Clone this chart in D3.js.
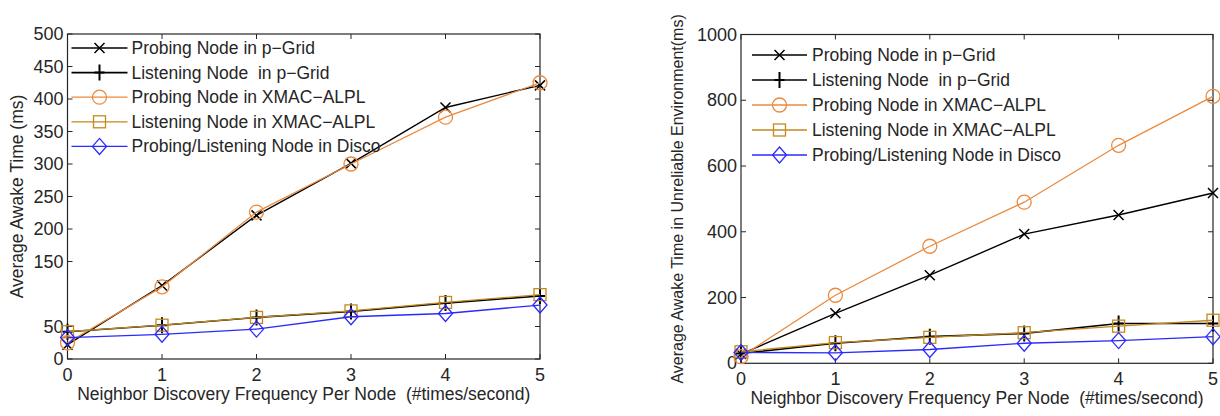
<!DOCTYPE html>
<html>
<head>
<meta charset="utf-8">
<script src="https://cdn.jsdelivr.net/npm/d3@7"></script>
<style>
  body { margin: 0; background: #fff; }
  svg { display: block; font-family: "Liberation Sans", Arial, sans-serif; }
  text { white-space: pre; }
  .tick-label { font-size: 18px; fill: #262626; }
  .axis-title { font-size: 17.5px; fill: #262626; }
  .legend-text { font-size: 17.5px; fill: #262626; }
</style>
</head>
<body>
<script>
var width = 1220;
var height = 416;

// shared x values
var xValues = [0, 1, 2, 3, 4, 5];
var xTicks = [0, 1, 2, 3, 4, 5];

// left chart: average awake time (ms)
var leftYTicks = [0, 50, 150, 200, 250, 300, 350, 400, 450, 500];
var leftProbingGrid = [22, 113, 221, 301, 387, 421];
var leftListeningGrid = [42, 52, 64, 73, 86, 97];
var leftProbingXmac = [25, 111, 226, 300, 372, 425];
var leftListeningXmac = [42, 52, 64, 74, 87, 99];
var leftDisco = [33, 38, 46, 65, 70, 83];

// right chart: unreliable environment
var rightYTicks = [0, 200, 400, 600, 800, 1000];
var rightProbingGrid = [28, 152, 268, 393, 451, 518];
var rightListeningGrid = [30, 61, 81, 91, 121, 121];
var rightProbingXmac = [20, 207, 356, 490, 663, 812];
var rightListeningXmac = [35, 63, 79, 93, 113, 131];
var rightDisco = [33, 32, 42, 61, 69, 81];

var seriesNames = [
  "Probing Node in p\u2212Grid",
  "Listening Node  in p\u2212Grid",
  "Probing Node in XMAC\u2212ALPL",
  "Listening Node in XMAC\u2212ALPL",
  "Probing/Listening Node in Disco"
];
var seriesColors = ["#000000", "#000000", "#ea8a3e", "#c4891f", "#2a2aff"];
var seriesMarkers = ["x", "plus", "circle", "square", "diamond"];
var seriesWidths = [1.4, 1.6, 1.3, 1.3, 1.3];

var xLabel = "Neighbor Discovery Frequency Per Node  (#times/second)";

var svg = d3.select("body").append("svg")
    .attr("width", width)
    .attr("height", height);

function drawMarker(g, type, color, x, y) {
  if (type === "x") {
    var s = 5;
    g.append("path")
      .attr("d", "M" + (x - s) + "," + (y - s) + "L" + (x + s) + "," + (y + s) +
                 "M" + (x - s) + "," + (y + s) + "L" + (x + s) + "," + (y - s))
      .attr("stroke", color).attr("stroke-width", 1.5).attr("fill", "none");
  } else if (type === "plus") {
    g.append("path")
      .attr("d", "M" + x + "," + (y - 8) + "L" + x + "," + (y + 8) +
                 "M" + (x - 5) + "," + y + "L" + (x + 5) + "," + y)
      .attr("stroke", color).attr("stroke-width", 2).attr("fill", "none");
  } else if (type === "circle") {
    g.append("circle")
      .attr("cx", x).attr("cy", y).attr("r", 7)
      .attr("stroke", color).attr("stroke-width", 1.3).attr("fill", "none");
  } else if (type === "square") {
    g.append("rect")
      .attr("x", x - 6).attr("y", y - 6).attr("width", 12).attr("height", 12)
      .attr("stroke", color).attr("stroke-width", 1.3).attr("fill", "none");
  } else if (type === "diamond") {
    g.append("path")
      .attr("d", "M" + x + "," + (y - 8) + "L" + (x + 7) + "," + y + "L" + x + "," + (y + 8) +
                 "L" + (x - 7) + "," + y + "Z")
      .attr("stroke", color).attr("stroke-width", 1.3).attr("fill", "none");
  }
}

function drawChart(opts) {
  var x = d3.scaleLinear().domain([0, 5]).range([opts.left, opts.right]);
  var y = d3.scaleLinear().domain([0, opts.yMax]).range([opts.bottom, opts.top]);
  var g = svg.append("g");

  // box
  g.append("rect")
    .attr("x", opts.left).attr("y", opts.top)
    .attr("width", opts.right - opts.left).attr("height", opts.bottom - opts.top)
    .attr("fill", "none").attr("stroke", "#262626").attr("stroke-width", 1.2);

  // inward ticks on all sides
  var tk = 5;
  xTicks.forEach(function(t) {
    g.append("line").attr("x1", x(t)).attr("x2", x(t))
      .attr("y1", opts.bottom).attr("y2", opts.bottom - tk).attr("stroke", "#262626");
    g.append("line").attr("x1", x(t)).attr("x2", x(t))
      .attr("y1", opts.top).attr("y2", opts.top + tk).attr("stroke", "#262626");
    g.append("text").attr("class", "tick-label")
      .attr("x", x(t)).attr("y", opts.bottom + 22)
      .attr("text-anchor", "middle").text(t);
  });
  opts.yTicks.forEach(function(t) {
    g.append("line").attr("x1", opts.left).attr("x2", opts.left + tk)
      .attr("y1", y(t)).attr("y2", y(t)).attr("stroke", "#262626");
    g.append("line").attr("x1", opts.right).attr("x2", opts.right - tk)
      .attr("y1", y(t)).attr("y2", y(t)).attr("stroke", "#262626");
    g.append("text").attr("class", "tick-label")
      .attr("x", opts.left - 4).attr("y", y(t) + 6)
      .attr("text-anchor", "end").text(t);
  });

  // axis titles
  g.append("text").attr("class", "axis-title")
    .attr("x", (opts.left + opts.right) / 2).attr("y", opts.bottom + 41)
    .attr("text-anchor", "middle").text(xLabel);
  g.append("text").attr("class", "axis-title")
    .attr("transform", "translate(" + opts.yLabelX + "," + ((opts.top + opts.bottom) / 2) + ") rotate(-90)")
    .attr("text-anchor", "middle")
    .style("font-size", opts.yLabelSize + "px")
    .text(opts.yLabel);

  var line = d3.line()
    .x(function(d, i) { return x(xValues[i]); })
    .y(function(d) { return y(d); });

  opts.series.forEach(function(vals, k) {
    g.append("path").datum(vals)
      .attr("d", line)
      .attr("fill", "none")
      .attr("stroke", seriesColors[k])
      .attr("stroke-width", seriesWidths[k]);
    vals.forEach(function(v, i) {
      drawMarker(g, seriesMarkers[k], seriesColors[k], x(xValues[i]), y(v));
    });
  });

  // legend (no box)
  var lg = g.append("g").attr("transform", "translate(" + opts.left + "," + opts.legendTop + ")");
  seriesNames.forEach(function(name, k) {
    var ry = k * opts.legendStep;
    lg.append("line").attr("x1", opts.legendLine[0]).attr("x2", opts.legendLine[1])
      .attr("y1", ry).attr("y2", ry)
      .attr("stroke", seriesColors[k]).attr("stroke-width", seriesWidths[k]);
    drawMarker(lg, seriesMarkers[k], seriesColors[k], (opts.legendLine[0] + opts.legendLine[1]) / 2, ry);
    lg.append("text").attr("class", "legend-text")
      .attr("x", opts.legendText).attr("y", ry + 6).text(name);
  });
}

drawChart({
  left: 67.5, right: 540, top: 34, bottom: 359, yMax: 500,
  yTicks: leftYTicks,
  yLabel: "Average Awake Time (ms)", yLabelX: 23, yLabelSize: 17.5,
  series: [leftProbingGrid, leftListeningGrid, leftProbingXmac, leftListeningXmac, leftDisco],
  legendTop: 48, legendStep: 24.6, legendLine: [4, 60], legendText: 64
});

drawChart({
  left: 741, right: 1213, top: 34.5, bottom: 363.3, yMax: 1000,
  yTicks: rightYTicks,
  yLabel: "Average Awake Time in Unreliable Environment(ms)", yLabelX: 683, yLabelSize: 16,
  series: [rightProbingGrid, rightListeningGrid, rightProbingXmac, rightListeningXmac, rightDisco],
  legendTop: 55, legendStep: 25, legendLine: [11, 66], legendText: 71
});
</script>
</body>
</html>
